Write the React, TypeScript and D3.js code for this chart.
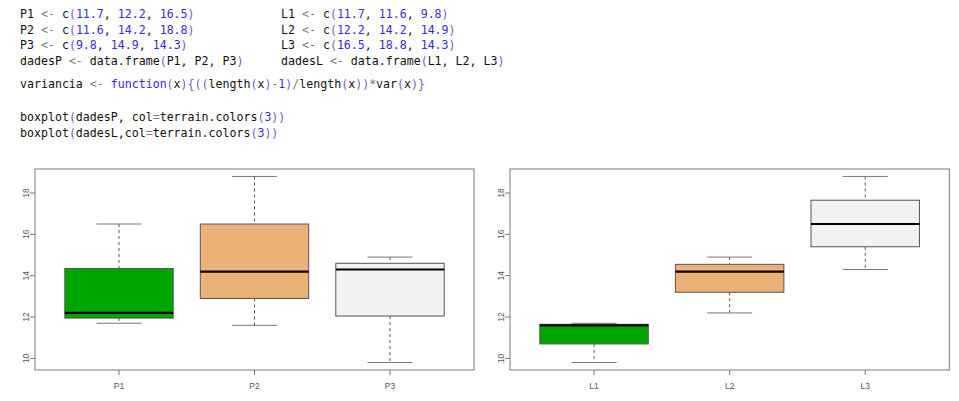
import React from "react";
import * as d3 from "d3";

// ---- data ----
const codeLeft = [
  "P1 <- c(11.7, 12.2, 16.5)",
  "P2 <- c(11.6, 14.2, 18.8)",
  "P3 <- c(9.8, 14.9, 14.3)",
  "dadesP <- data.frame(P1, P2, P3)",
];
const codeRight = [
  "L1 <- c(11.7, 11.6, 9.8)",
  "L2 <- c(12.2, 14.2, 14.9)",
  "L3 <- c(16.5, 18.8, 14.3)",
  "dadesL <- data.frame(L1, L2, L3)",
];
const codeVar = "variancia <- function(x){((length(x)-1)/length(x))*var(x)}";
const codeBox = ["boxplot(dadesP, col=terrain.colors(3))", "boxplot(dadesL,col=terrain.colors(3))"];

const namesP = ["P1", "P2", "P3"];
const P1 = [11.7, 12.2, 16.5];
const P2 = [11.6, 14.2, 18.8];
const P3 = [9.8, 14.9, 14.3];
const namesL = ["L1", "L2", "L3"];
const L1 = [11.7, 11.6, 9.8];
const L2 = [12.2, 14.2, 14.9];
const L3 = [16.5, 18.8, 14.3];
const boxColors = ["#00A600", "#ECB176", "#F2F2F2"];
const yTicks = [10, 12, 14, 16, 18];

// Tukey five-number summary (R fivenum)
function fivenum(x: number[]) {
  const s = [...x].sort((a, b) => a - b);
  const n = s.length;
  const n4 = Math.floor((n + 3) / 2) / 2;
  const d = [1, n4, (n + 1) / 2, n + 1 - n4, n];
  return d.map((v) => 0.5 * (s[Math.floor(v) - 1] + s[Math.ceil(v) - 1]));
}

type Tok = { t: string; c: string };
function tokenize(line: string): Tok[] {
  const re = /(\d+\.?\d*)|(<-)|(function)|([(){}])|([-/*=])|([A-Za-z_.][A-Za-z0-9_.]*)|(\s+)|(.)/g;
  const out: Tok[] = [];
  let m: RegExpExecArray | null;
  while ((m = re.exec(line))) {
    let c = "#111";
    if (m[1]) c = "#3a2bd0";
    else if (m[2]) c = "#7a7a7a";
    else if (m[3]) c = "#3b22e6";
    else if (m[4]) c = "#6a5fc0";
    else if (m[5]) c = "#7a7a7a";
    out.push({ t: m[0], c });
  }
  return out;
}

function CodeLine({ x, y, line }: { x: number; y: number; line: string }) {
  return (
    <text x={x} y={y} fontFamily="'DejaVu Sans Mono', monospace" fontSize={11.6} style={{ whiteSpace: "pre" }} xmlSpace="preserve">
      {tokenize(line).map((k, i) => (
        <tspan key={i} fill={k.c}>
          {k.t}
        </tspan>
      ))}
    </text>
  );
}

const yScale = d3.scaleLinear().domain([9.44, 19.16]).range([370, 169]);

function BoxPanel({ left, right, names, series }: { left: number; right: number; names: string[]; series: number[][] }) {
  const x = d3.scaleLinear().domain([0.38, 3.62]).range([left, right]);
  const bw = x(0.4) - x(0);
  const sw = x(0.166) - x(0);
  return (
    <g>
      {series.map((s, i) => {
        const f = fivenum(s);
        const cx = x(i + 1);
        return (
          <g key={i}>
            <line x1={cx} x2={cx} y1={yScale(f[4])} y2={yScale(f[3])} stroke="#555" strokeDasharray="3,3" />
            <line x1={cx} x2={cx} y1={yScale(f[1])} y2={yScale(f[0])} stroke="#555" strokeDasharray="3,3" />
            <line x1={cx - sw} x2={cx + sw} y1={yScale(f[4])} y2={yScale(f[4])} stroke="#777" />
            <line x1={cx - sw} x2={cx + sw} y1={yScale(f[0])} y2={yScale(f[0])} stroke="#777" />
            <rect x={cx - bw} width={2 * bw} y={yScale(f[3])} height={yScale(f[1]) - yScale(f[3])} fill={boxColors[i]} stroke="#555" />
            <line x1={cx - bw} x2={cx + bw} y1={yScale(f[2])} y2={yScale(f[2])} stroke="#000" strokeWidth={2.2} />
          </g>
        );
      })}
      <rect x={left} y={169} width={right - left} height={201} fill="none" stroke="#7a7a7a" />
      {yTicks.map((t) => (
        <g key={t}>
          <line x1={left - 5} x2={left} y1={yScale(t)} y2={yScale(t)} stroke="#777" />
          <text transform={`translate(${left - 6},${yScale(t)}) rotate(-90)`} textAnchor="middle" fontFamily="'Liberation Sans', Arial, sans-serif" fontSize={8.5} fill="#555">
            {t}
          </text>
        </g>
      ))}
      {names.map((n, i) => (
        <g key={n}>
          <line x1={x(i + 1)} x2={x(i + 1)} y1={370} y2={375} stroke="#777" />
          <text x={x(i + 1)} y={388.5} textAnchor="middle" fontFamily="'Liberation Sans', Arial, sans-serif" fontSize={8.5} fill="#555">
            {n}
          </text>
        </g>
      ))}
    </g>
  );
}

export default function App() {
  const lineYs = [18, 33.5, 49, 64.5];
  return (
    <svg width={959} height={401} style={{ position: "absolute", left: 0, top: 0, background: "#fff" }}>
      <rect width={959} height={401} fill="#fff" />
      {codeLeft.map((l, i) => (
        <CodeLine key={"l" + i} x={20} y={lineYs[i]} line={l} />
      ))}
      {codeRight.map((l, i) => (
        <CodeLine key={"r" + i} x={281} y={lineYs[i]} line={l} />
      ))}
      <CodeLine x={20} y={88} line={codeVar} />
      {codeBox.map((l, i) => (
        <CodeLine key={"b" + i} x={20} y={120.5 + i * 16} line={l} />
      ))}
      <BoxPanel left={35} right={474} names={namesP} series={[P1, P2, P3]} />
      <BoxPanel left={510} right={949.3} names={namesL} series={[L1, L2, L3]} />
    </svg>
  );
}
